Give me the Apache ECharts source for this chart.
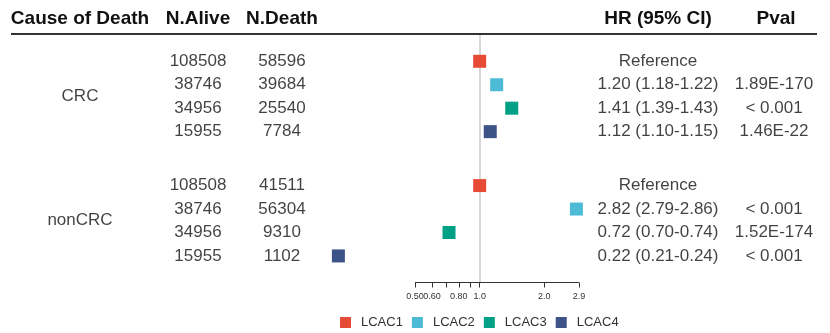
<!DOCTYPE html>
<html>
<head>
<meta charset="utf-8">
<script src="https://cdn.jsdelivr.net/npm/echarts@6/dist/echarts.min.js"></script>
<style>html,body{margin:0;padding:0;background:#fff}#c{width:830px;height:333px}</style>
</head>
<body>
<div id="c"></div>
<script>
// ---- data ----
const groups = ['CRC', 'nonCRC'];
const levels = ['LCAC1', 'LCAC2', 'LCAC3', 'LCAC4'];
const nAlive = [[108508, 38746, 34956, 15955], [108508, 38746, 34956, 15955]];
const nDeath = [[58596, 39684, 25540, 7784], [41511, 56304, 9310, 1102]];
const hr = [[1.00, 1.20, 1.41, 1.12], [1.00, 2.82, 0.72, 0.22]];
const hrText = [
  ['Reference', '1.20 (1.18-1.22)', '1.41 (1.39-1.43)', '1.12 (1.10-1.15)'],
  ['Reference', '2.82 (2.79-2.86)', '0.72 (0.70-0.74)', '0.22 (0.21-0.24)']
];
const pval = [
  ['', '1.89E-170', '< 0.001', '1.46E-22'],
  ['', '< 0.001', '1.52E-174', '< 0.001']
];
const tickValues = [0.5, 0.6, 0.7, 0.8, 0.9, 1.0, 2.0, 2.9];
const labelValues = [0.5, 0.6, 0.8, 1.0, 2.0, 2.9];
const labelTexts = ['0.50', '0.60', '0.80', '1.0', '2.0', '2.9'];
const headers = ['Cause of Death', 'N.Alive', 'N.Death', 'HR (95% CI)', 'Pval'];

// ---- layout ----
const colors = ['#E64B35', '#4DBBD5', '#00A087', '#3C5488'];
const FONT = "'Liberation Sans', Arial, sans-serif";
const groupStep = 5.3;           // rows per group block (4 rows + spacer)
const rowPos = (g, i) => g * groupStep + i;
const yMin = -1.164, yMax = 9.433;
const gridTop = 34, gridBottom = 333 - 282.5;
const colX = { group: 80, alive: 198, death: 282, hr: 658, p: 774 };
const headerX = [80, 198, 282, 658, 776];

const chart = echarts.init(document.getElementById('c'), null, { renderer: 'canvas' });

function textSeries(xPos, getter) {
  const data = [];
  groups.forEach((g, gi) => levels.forEach((l, li) => {
    const t = getter(gi, li);
    if (t !== '') data.push([xPos, rowPos(gi, li), String(t)]);
  }));
  return {
    type: 'scatter', xAxisIndex: 1, yAxisIndex: 1, symbolSize: 0, silent: true,
    data: data,
    label: { show: true, position: 'inside', formatter: p => p.data[2],
             fontFamily: FONT, fontSize: 17, color: '#111' }
  };
}

const series = [];
// reference line at HR = 1 and the partial axis line (drawn beneath the squares)
series.push({
  type: 'scatter', xAxisIndex: 0, yAxisIndex: 0, data: [], z: 1, silent: true,
  markLine: {
    silent: true, symbol: 'none', label: { show: false }, animation: false,
    data: [
      { xAxis: 1, lineStyle: { color: '#cccccc', width: 1.5, type: 'solid' } },
      [{ coord: [tickValues[0], yMax], lineStyle: { color: '#333', width: 1, type: 'solid' } },
       { coord: [tickValues[tickValues.length - 1], yMax] }]
    ]
  }
});
levels.forEach((l, li) => {
  series.push({
    name: l, type: 'scatter', xAxisIndex: 0, yAxisIndex: 0, z: 5,
    symbol: 'rect', symbolSize: 13,
    itemStyle: { color: colors[li], opacity: 1 },
    data: groups.map((g, gi) => [hr[gi][li], rowPos(gi, li)])
  });
});
series.push(textSeries(colX.alive, (g, i) => nAlive[g][i]));
series.push(textSeries(colX.death, (g, i) => nDeath[g][i]));
series.push(textSeries(colX.hr, (g, i) => hrText[g][i]));
series.push(textSeries(colX.p, (g, i) => pval[g][i]));
series.push({
  type: 'scatter', xAxisIndex: 1, yAxisIndex: 1, symbolSize: 0, silent: true,
  data: groups.map((g, gi) => [colX.group, rowPos(gi, 1.5), g]),
  label: { show: true, position: 'inside', formatter: p => p.data[2],
           fontFamily: FONT, fontSize: 17, color: '#111' }
});

const fmt = v => { const k = labelValues.findIndex(x => Math.abs(x - v) < 1e-6); return k >= 0 ? labelTexts[k] : ''; };
// labels split over two overlaid axes so that ECharts does not drop touching labels
const labelsA = labelValues.filter((v, i) => i % 2 === 0);
const labelsB = labelValues.filter((v, i) => i % 2 === 1);
const ticksA = tickValues.filter((v, i) => i % 2 === 0);
const ticksB = tickValues.filter((v, i) => i % 2 === 1);
function logAxis(ticks, labels) {
  return {
    type: 'log', gridIndex: 0, min: 0.2, max: 3.2, position: 'bottom', offset: 0,
    splitLine: { show: false },
    axisLine: { show: false, onZero: false },
    axisTick: { show: true, customValues: ticks, length: 5, inside: false,
                lineStyle: { color: '#333', width: 1 } },
    axisLabel: { show: true, customValues: labels, hideOverlap: false,
                 showMinLabel: true, showMaxLabel: true, formatter: fmt,
                 fontSize: 9, color: '#333', margin: 10, fontFamily: FONT }
  };
}

const option = {
  animation: false,
  backgroundColor: '#ffffff',
  textStyle: { fontFamily: FONT },
  grid: [
    { left: 329.5, width: 258.7, top: gridTop, bottom: gridBottom, containLabel: false },
    { left: 0, right: 0, top: gridTop, bottom: gridBottom, containLabel: false }
  ],
  xAxis: [
    logAxis(ticksA, labelsA),
    { type: 'value', gridIndex: 1, min: 0, max: 830, show: false },
    logAxis(ticksB, labelsB)
  ],
  yAxis: [
    { type: 'value', gridIndex: 0, inverse: true, min: yMin, max: yMax, show: false },
    { type: 'value', gridIndex: 1, inverse: true, min: yMin, max: yMax, show: false }
  ],
  legend: {
    data: levels, left: 340, top: 316, padding: 0,
    icon: 'rect', itemWidth: 11, itemHeight: 11, itemGap: 9,
    textStyle: { fontSize: 13, color: '#333', fontFamily: FONT, padding: [0, 0, 0, 5] },
    selectedMode: false
  },
  graphic: [
    ...headers.map((h, i) => ({
      type: 'text', x: headerX[i], y: 19,
      style: { text: h, font: "bold 19px " + FONT, fill: '#111', align: 'center', verticalAlign: 'middle' }
    })),
    { type: 'line', shape: { x1: 11, y1: 34, x2: 817, y2: 34 }, style: { stroke: '#333', lineWidth: 2 }, z: 10 }
  ],
  series: series
};
chart.setOption(option);
</script>
</body>
</html>
